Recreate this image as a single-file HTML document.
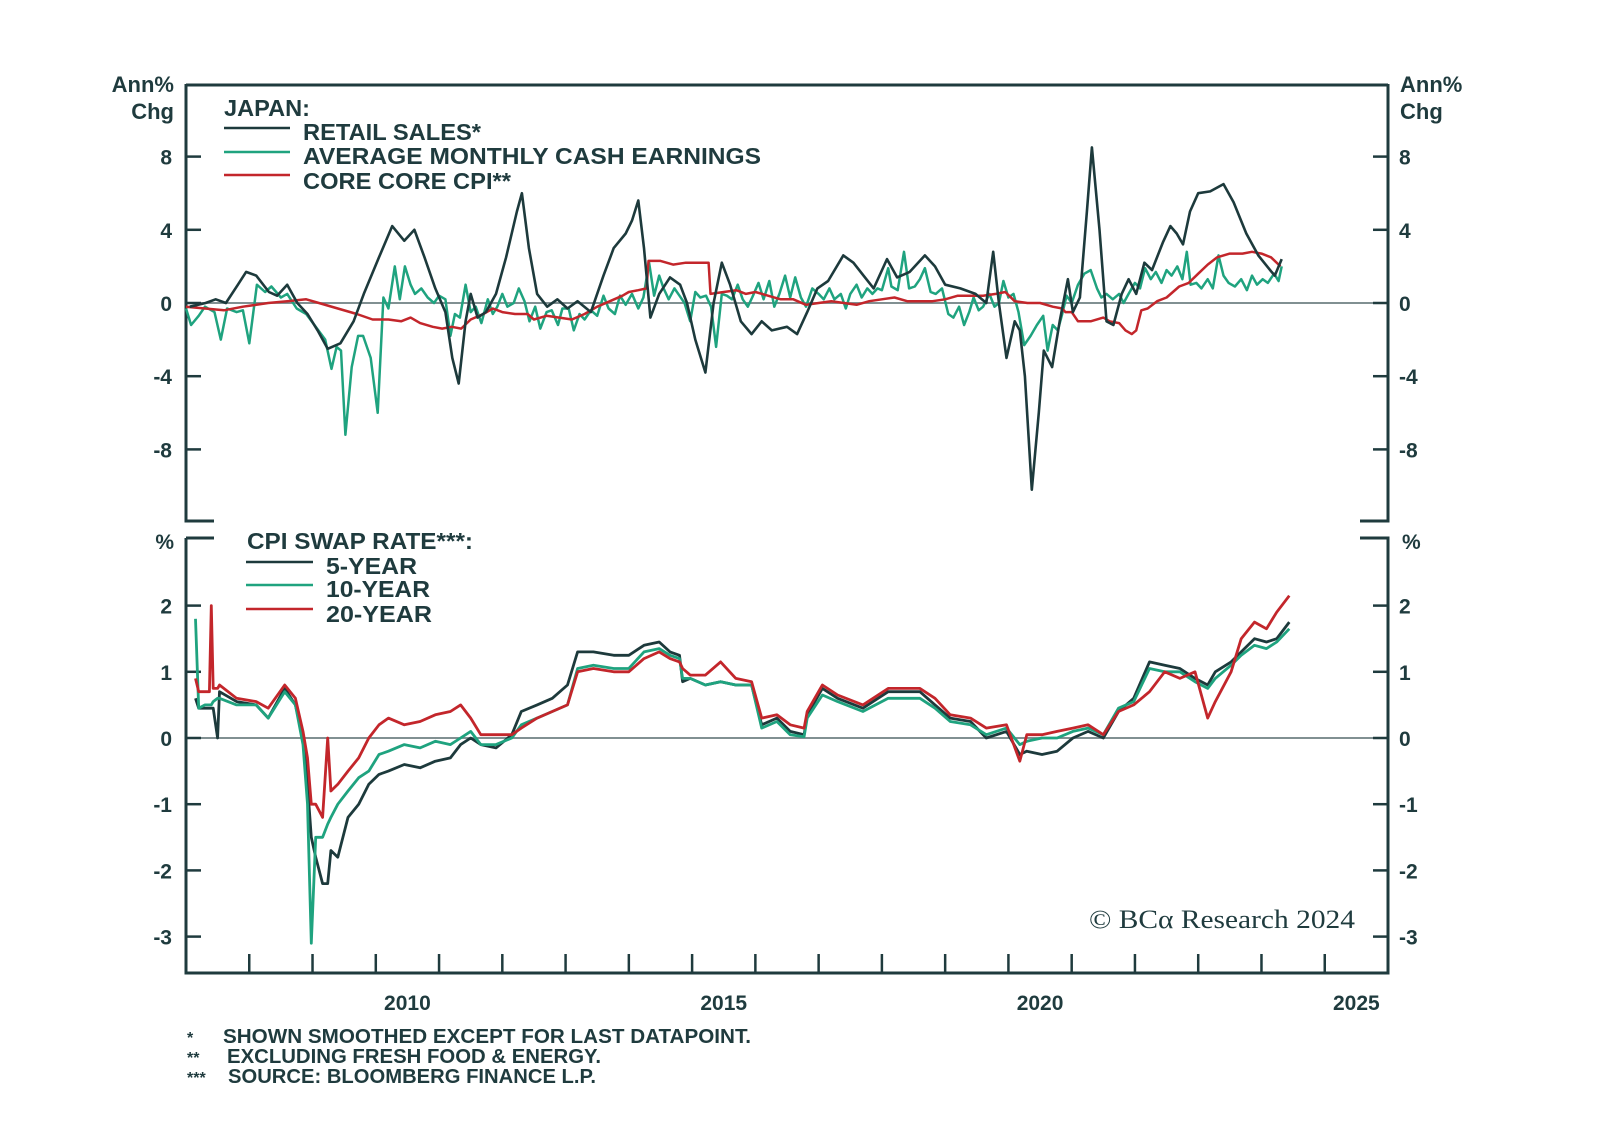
<!DOCTYPE html>
<html><head><meta charset="utf-8"><style>
html,body{margin:0;padding:0;background:#fff;}
svg{display:block;font-family:"Liberation Sans",sans-serif;}
.t{fill:#1f3b3e;font-weight:bold;}
</style></head><body>
<svg id="chart" width="1600" height="1133" viewBox="0 0 1600 1133" xmlns="http://www.w3.org/2000/svg">
<g id="frame" stroke="#1f3b3e" stroke-width="3" fill="none">
<path d="M186 85 H1388 M186 84 V521 H214 M1388 84 V521 H1360 M186 538 H214 M186 538 V973 H1388 V538 H1360"/>
</g>
<g id="zero-lines"></g>
<g id="ticks"></g>
<g id="series"></g>
<g>
<text class="t" x="174" y="92" font-size="22" text-anchor="end">Ann%</text>
<text class="t" x="174" y="119" font-size="22" text-anchor="end">Chg</text>
<text class="t" x="1400" y="92" font-size="22">Ann%</text>
<text class="t" x="1400" y="119" font-size="22">Chg</text>
<text class="t" x="174" y="549" font-size="21" text-anchor="end">%</text>
<text class="t" x="1402" y="549" font-size="21">%</text>
</g>
<g>
<text class="t" x="224" y="116" font-size="23" textLength="86" lengthAdjust="spacingAndGlyphs">JAPAN:</text>
<line x1="224" y1="128" x2="290" y2="128" stroke="#1d3a3c" stroke-width="2.5"/>
<line x1="224" y1="152" x2="290" y2="152" stroke="#1fa37f" stroke-width="2.5"/>
<line x1="224" y1="175" x2="290" y2="175" stroke="#c3262b" stroke-width="2.5"/>
<text class="t" x="303" y="140" font-size="23" textLength="178" lengthAdjust="spacingAndGlyphs">RETAIL SALES*</text>
<text class="t" x="303" y="164" font-size="23" textLength="458" lengthAdjust="spacingAndGlyphs">AVERAGE MONTHLY CASH EARNINGS</text>
<text class="t" x="303" y="189" font-size="23" textLength="208" lengthAdjust="spacingAndGlyphs">CORE CORE CPI**</text>
</g>
<g>
<text class="t" x="247" y="549" font-size="23" textLength="226" lengthAdjust="spacingAndGlyphs">CPI SWAP RATE***:</text>
<line x1="246" y1="562" x2="313" y2="562" stroke="#1d3a3c" stroke-width="2.5"/>
<line x1="246" y1="585" x2="313" y2="585" stroke="#1fa37f" stroke-width="2.5"/>
<line x1="246" y1="609" x2="313" y2="609" stroke="#c3262b" stroke-width="2.5"/>
<text class="t" x="326" y="574" font-size="23" textLength="91" lengthAdjust="spacingAndGlyphs">5-YEAR</text>
<text class="t" x="326" y="597" font-size="23" textLength="104" lengthAdjust="spacingAndGlyphs">10-YEAR</text>
<text class="t" x="326" y="622" font-size="23" textLength="106" lengthAdjust="spacingAndGlyphs">20-YEAR</text>
</g>
<text x="1089" y="928" font-size="26" fill="#1f3b3e" font-family="Liberation Serif, serif" textLength="266" lengthAdjust="spacingAndGlyphs">© BCα Research 2024</text>
<g>
<text class="t" x="187" y="1043" font-size="16">*</text>
<text class="t" x="187" y="1063" font-size="16">**</text>
<text class="t" x="187" y="1083" font-size="16">***</text>
<text class="t" x="223" y="1043" font-size="20" textLength="528" lengthAdjust="spacingAndGlyphs">SHOWN SMOOTHED EXCEPT FOR LAST DATAPOINT.</text>
<text class="t" x="227" y="1063" font-size="20" textLength="374" lengthAdjust="spacingAndGlyphs">EXCLUDING FRESH FOOD &amp; ENERGY.</text>
<text class="t" x="228" y="1083" font-size="20" textLength="368" lengthAdjust="spacingAndGlyphs">SOURCE: BLOOMBERG FINANCE L.P.</text>
</g>
</svg>
<script>
// ---- X axis ----
const xTickYears = [2008,2009,2010,2011,2012,2013,2014,2015,2016,2017,2018,2019,2020,2021,2022,2023,2024,2025];
const xLabelYears = [2010,2015,2020,2025];
const topTicks = [-8,-4,0,4,8];
const bottomTicks = [-3,-2,-1,0,1,2];

// ---- Top panel data ----
const retailDates = [2007.06,2007.31,2007.47,2007.63,2007.82,2007.95,2008.11,2008.31,2008.44,2008.60,2008.76,2008.92,2009.08,2009.24,2009.44,2009.65,2009.81,2010.05,2010.26,2010.45,2010.61,2010.77,2010.94,2011.10,2011.21,2011.31,2011.42,2011.50,2011.61,2011.74,2011.90,2012.06,2012.23,2012.31,2012.42,2012.55,2012.71,2012.87,2013.03,2013.19,2013.40,2013.60,2013.76,2013.95,2014.05,2014.15,2014.24,2014.34,2014.48,2014.65,2014.81,2014.92,2015.05,2015.21,2015.34,2015.47,2015.60,2015.77,2015.94,2016.10,2016.26,2016.50,2016.66,2016.82,2016.98,2017.15,2017.39,2017.55,2017.71,2017.87,2018.08,2018.24,2018.44,2018.68,2018.84,2019.00,2019.24,2019.48,2019.65,2019.76,2019.85,2019.97,2020.10,2020.18,2020.26,2020.37,2020.48,2020.56,2020.69,2020.81,2020.94,2021.02,2021.13,2021.24,2021.32,2021.44,2021.55,2021.66,2021.79,2021.90,2022.02,2022.15,2022.27,2022.44,2022.56,2022.66,2022.76,2022.87,2023.00,2023.19,2023.40,2023.56,2023.76,2023.95,2024.16,2024.21,2024.32];
const retailValues = [-0.2,0,0.2,0,1.0,1.7,1.5,0.6,0.4,1.0,0,-0.6,-1.5,-2.5,-2.2,-1,0.5,2.5,4.2,3.4,4.0,2.5,0.8,-0.5,-3,-4.4,-1,0.5,-0.8,-0.5,0.5,2.5,5.0,6.0,3,0.5,-0.2,0.2,-0.3,0.1,-0.5,1.5,3,3.8,4.5,5.6,3,-0.8,0.5,1.4,1,0,-2,-3.8,0,2.2,1,-1,-1.7,-1,-1.5,-1.3,-1.7,-0.5,0.8,1.2,2.6,2.2,1.5,0.8,2.4,1.4,1.7,2.6,2,1,0.8,0.5,0,2.8,0,-3,-1,-1.5,-4,-10.2,-6,-2.6,-3.5,-1,1.3,-0.5,0.3,5,8.5,4,-1,-1.2,0.5,1.3,0.5,2.2,1.8,3.3,4.2,3.8,3.2,5,6,6.1,6.5,5.5,3.8,2.6,1.7,1.5,2.4];

const earnDates = [2007.0,2007.08,2007.2,2007.3,2007.45,2007.55,2007.65,2007.8,2007.9,2008.0,2008.12,2008.25,2008.35,2008.5,2008.6,2008.75,2008.9,2009.05,2009.2,2009.3,2009.38,2009.45,2009.52,2009.62,2009.72,2009.8,2009.92,2010.03,2010.12,2010.2,2010.3,2010.38,2010.46,2010.55,2010.62,2010.72,2010.82,2010.92,2011.0,2011.1,2011.18,2011.25,2011.33,2011.42,2011.5,2011.58,2011.67,2011.77,2011.85,2011.92,2012.0,2012.08,2012.18,2012.26,2012.35,2012.43,2012.52,2012.6,2012.7,2012.78,2012.88,2012.95,2013.05,2013.13,2013.22,2013.3,2013.4,2013.5,2013.6,2013.68,2013.78,2013.86,2013.95,2014.05,2014.15,2014.23,2014.32,2014.4,2014.48,2014.55,2014.63,2014.72,2014.8,2014.88,2014.97,2015.05,2015.13,2015.22,2015.3,2015.38,2015.47,2015.55,2015.63,2015.72,2015.8,2015.88,2015.95,2016.05,2016.13,2016.22,2016.3,2016.38,2016.47,2016.55,2016.63,2016.72,2016.8,2016.9,2017.0,2017.08,2017.17,2017.25,2017.35,2017.43,2017.5,2017.6,2017.68,2017.77,2017.85,2017.93,2018.0,2018.1,2018.15,2018.25,2018.35,2018.43,2018.52,2018.6,2018.68,2018.77,2018.85,2018.95,2019.05,2019.13,2019.22,2019.3,2019.38,2019.45,2019.53,2019.6,2019.7,2019.78,2019.85,2019.92,2020.0,2020.08,2020.16,2020.25,2020.35,2020.45,2020.55,2020.62,2020.7,2020.78,2020.85,2020.92,2021.0,2021.1,2021.2,2021.3,2021.4,2021.47,2021.55,2021.65,2021.75,2021.82,2021.9,2022.0,2022.08,2022.16,2022.25,2022.33,2022.42,2022.5,2022.58,2022.67,2022.75,2022.82,2022.88,2022.97,2023.05,2023.15,2023.23,2023.32,2023.4,2023.48,2023.58,2023.68,2023.77,2023.85,2023.93,2024.02,2024.1,2024.2,2024.27,2024.32];
const earnValues = [-0.3,-1.2,-0.7,-0.2,-0.5,-2.0,-0.3,-0.5,-0.4,-2.2,1.0,0.6,0.9,0.3,0.5,-0.3,-0.6,-1.3,-2.0,-3.6,-2.4,-2.6,-7.2,-3.5,-1.8,-1.8,-3.0,-6.0,0.3,-0.3,2.0,0.2,2.0,1.0,0.5,0.8,0.3,0.0,0.4,0.2,-1.8,-0.6,-0.8,1.0,-0.5,-0.2,-1.1,0.2,-0.6,-0.2,0.5,-0.2,0.0,0.8,0.1,-1.0,-0.2,-1.4,-0.5,-0.4,-1.2,-0.3,-0.3,-1.5,-0.6,-0.9,-0.4,-0.7,0.4,-0.3,-0.6,0.4,-0.1,0.5,-0.3,0.3,2.2,0.4,1.5,0.8,0.2,0.8,0.4,0.0,-1.0,0.6,0.3,0.4,-0.2,-2.4,0.5,0.4,0.2,1.0,0.2,-0.2,0.3,1.1,0.2,1.2,-0.2,0.5,1.5,0.3,1.4,0.3,-0.2,0.8,0.5,0.2,0.8,0.2,0.5,-0.3,0.5,1.0,0.3,0.8,0.5,0.8,0.7,1.9,0.9,0.7,2.8,0.8,0.9,1.3,1.9,0.6,0.5,0.8,-0.6,-0.8,-0.2,-1.2,-0.5,0.3,-0.4,-0.2,0.5,-0.2,0.0,1.2,0.3,0.5,-0.5,-2.3,-1.8,-1.2,-0.7,-2.6,-1.2,-1.5,-0.6,0.4,0.0,1.0,1.6,1.8,0.8,0.3,0.5,0.2,0.5,0.0,0.5,1.1,0.8,1.9,1.3,1.7,1.1,1.8,1.5,2.0,1.3,2.8,1.0,1.1,0.8,1.3,0.8,2.6,1.5,1.1,0.9,1.3,0.7,1.5,1.0,1.3,1.1,1.6,1.2,2.0];

const cpiDates = [2007.0,2007.3,2007.6,2007.9,2008.3,2008.6,2008.9,2009.1,2009.4,2009.7,2009.95,2010.2,2010.4,2010.55,2010.7,2010.9,2011.05,2011.2,2011.35,2011.5,2011.7,2011.85,2012.0,2012.2,2012.4,2012.5,2012.7,2012.9,2013.1,2013.3,2013.5,2013.7,2013.9,2014.0,2014.15,2014.28,2014.31,2014.5,2014.7,2014.9,2015.1,2015.26,2015.29,2015.5,2015.7,2015.85,2016.0,2016.2,2016.4,2016.6,2016.8,2017.0,2017.2,2017.4,2017.6,2017.8,2018.0,2018.2,2018.4,2018.6,2018.8,2019.0,2019.2,2019.4,2019.6,2019.8,2019.95,2020.1,2020.3,2020.5,2020.7,2020.85,2020.9,2021.0,2021.1,2021.3,2021.5,2021.6,2021.75,2021.85,2021.95,2022.02,2022.1,2022.2,2022.35,2022.5,2022.7,2022.85,2023.0,2023.15,2023.3,2023.5,2023.7,2023.85,2024.0,2024.15,2024.3];
const cpiValues = [-0.2,-0.3,-0.4,-0.2,0.0,0.1,0.2,0.0,-0.3,-0.6,-0.9,-0.9,-1.0,-0.8,-1.1,-1.3,-1.4,-1.3,-1.4,-0.9,-0.6,-0.3,-0.5,-0.6,-0.6,-0.9,-0.7,-0.8,-0.9,-0.6,-0.2,0.1,0.4,0.6,0.7,0.8,2.3,2.3,2.1,2.2,2.2,2.2,0.5,0.6,0.7,0.5,0.6,0.4,0.2,0.2,-0.1,0.0,0.1,0.0,-0.1,0.1,0.2,0.3,0.1,0.1,0.1,0.2,0.4,0.4,0.4,0.5,0.6,0.1,0.0,0.0,-0.2,-0.3,-0.5,-0.5,-1.0,-1.0,-0.8,-1.0,-1.1,-1.5,-1.7,-1.5,-0.4,-0.3,0.1,0.3,0.9,1.1,1.6,2.1,2.5,2.7,2.7,2.8,2.7,2.5,2.0];

// ---- Bottom panel data (CPI swaps) ----
const swapDates = [2007.15,2007.2,2007.3,2007.37,2007.4,2007.43,2007.5,2007.53,2007.8,2008.11,2008.3,2008.56,2008.73,2008.85,2008.92,2008.98,2009.05,2009.16,2009.24,2009.29,2009.4,2009.56,2009.73,2009.89,2010.05,2010.2,2010.45,2010.7,2010.94,2011.18,2011.34,2011.5,2011.66,2011.9,2012.15,2012.3,2012.55,2012.79,2013.03,2013.19,2013.44,2013.76,2014.0,2014.24,2014.48,2014.65,2014.8,2014.85,2014.97,2015.21,2015.45,2015.69,2015.94,2016.1,2016.34,2016.55,2016.77,2016.82,2017.06,2017.3,2017.7,2018.1,2018.6,2018.84,2019.08,2019.4,2019.65,2019.97,2020.18,2020.29,2020.53,2020.77,2021.02,2021.26,2021.5,2021.74,2021.98,2022.23,2022.47,2022.71,2022.95,2023.15,2023.27,2023.52,2023.68,2023.89,2024.08,2024.24,2024.44];
const swap5y = [0.6,0.45,0.45,0.45,0.45,0.45,0.0,0.7,0.55,0.5,0.3,0.75,0.5,0.0,-0.7,-1.5,-1.8,-2.2,-2.2,-1.7,-1.8,-1.2,-1.0,-0.7,-0.55,-0.5,-0.4,-0.45,-0.35,-0.3,-0.1,0.0,-0.1,-0.15,0.05,0.4,0.5,0.6,0.8,1.3,1.3,1.25,1.25,1.4,1.45,1.3,1.25,0.85,0.9,0.8,0.85,0.8,0.8,0.2,0.3,0.1,0.05,0.35,0.75,0.6,0.45,0.7,0.7,0.5,0.3,0.25,0.0,0.1,-0.25,-0.2,-0.25,-0.2,0.0,0.1,0.0,0.4,0.6,1.15,1.1,1.05,0.9,0.8,1.0,1.15,1.3,1.5,1.45,1.5,1.75];
const swap10y = [1.8,0.45,0.5,0.5,0.5,0.55,0.6,0.6,0.5,0.5,0.3,0.7,0.5,-0.1,-1.0,-3.1,-1.5,-1.5,-1.3,-1.2,-1.0,-0.8,-0.6,-0.5,-0.25,-0.2,-0.1,-0.15,-0.05,-0.1,0.0,0.1,-0.1,-0.1,0.0,0.2,0.3,0.4,0.5,1.05,1.1,1.05,1.05,1.3,1.35,1.25,1.2,0.9,0.9,0.8,0.85,0.8,0.8,0.15,0.25,0.05,0.02,0.3,0.65,0.55,0.4,0.6,0.6,0.45,0.25,0.2,0.05,0.15,-0.1,-0.05,0.0,0.0,0.1,0.15,0.05,0.45,0.55,1.05,1.0,1.0,0.85,0.75,0.9,1.1,1.25,1.4,1.35,1.45,1.65];
const swap20y = [0.9,0.7,0.7,0.7,2.0,0.75,0.75,0.8,0.6,0.55,0.45,0.8,0.6,0.1,-0.3,-1.0,-1.0,-1.2,0.0,-0.8,-0.7,-0.5,-0.3,0.0,0.2,0.3,0.2,0.25,0.35,0.4,0.5,0.3,0.05,0.05,0.05,0.15,0.3,0.4,0.5,1.0,1.05,1.0,1.0,1.2,1.3,1.2,1.15,1.05,0.95,0.95,1.15,0.9,0.85,0.3,0.35,0.2,0.15,0.4,0.8,0.65,0.5,0.75,0.75,0.6,0.35,0.3,0.15,0.2,-0.35,0.05,0.05,0.1,0.15,0.2,0.05,0.4,0.5,0.7,1.0,0.9,1.0,0.3,0.55,1.0,1.5,1.75,1.65,1.9,2.15];

// ---- scales ----
const X0=186, X1=1388, Y0YR=2007, Y1YR=2026;
function xS(yr){ return X0 + (yr - Y0YR) * (X1 - X0) / (Y1YR - Y0YR); }
function yT(v){ return 303 - 18.3 * v; }
function yB(v){ return 738 - 66.2 * v; }

const NS="http://www.w3.org/2000/svg";
function mk(tag, parent){ const e=document.createElementNS(NS,tag); parent.appendChild(e); return e; }

const ticksG=document.getElementById('ticks');
const zeroG=document.getElementById('zero-lines');
const seriesG=document.getElementById('series');

const z1=mk('line',zeroG);


z1.setAttribute('x1',X0); z1.setAttribute('x2',X1); z1.setAttribute('y1',yT(0)); z1.setAttribute('y2',yT(0));
z1.setAttribute('stroke','#6f8082'); z1.setAttribute('stroke-width','1.8');
const z2=mk('line',zeroG);


z2.setAttribute('x1',X0); z2.setAttribute('x2',X1); z2.setAttribute('y1',yB(0)); z2.setAttribute('y2',yB(0));
z2.setAttribute('stroke','#6f8082'); z2.setAttribute('stroke-width','1.8');

function yTick(v, yf, side){
  const y=yf(v);
  const l=mk('line',ticksG);
  
  
  if(side==='L'){ l.setAttribute('x1',X0); l.setAttribute('x2',X0+15); }
  else { l.setAttribute('x1',X1-15); l.setAttribute('x2',X1); }
  l.setAttribute('y1',y); l.setAttribute('y2',y);
  l.setAttribute('stroke','#1f3b3e'); l.setAttribute('stroke-width','2.5');
  const t=mk('text',ticksG);
  
  
  t.setAttribute('class','t'); t.setAttribute('font-size','21');
  t.setAttribute('y',y+8);
  if(side==='L'){ t.setAttribute('x',172); t.setAttribute('text-anchor','end'); }
  else { t.setAttribute('x',1399); }
  t.textContent=String(v);
}
topTicks.forEach(v=>{ yTick(v,yT,'L'); yTick(v,yT,'R'); });
bottomTicks.forEach(v=>{ yTick(v,yB,'L'); yTick(v,yB,'R'); });

xTickYears.forEach(yr=>{
  const l=mk('line',ticksG);
  
  
  l.setAttribute('x1',xS(yr)); l.setAttribute('x2',xS(yr));
  l.setAttribute('y1',973); l.setAttribute('y2',954);
  l.setAttribute('stroke','#1f3b3e'); l.setAttribute('stroke-width','2.5');
});
xLabelYears.forEach(yr=>{
  const t=mk('text',ticksG);
  
  
  t.setAttribute('class','t'); t.setAttribute('font-size','21');
  t.setAttribute('x',xS(yr+0.5)); t.setAttribute('y',1010);
  t.setAttribute('text-anchor','middle');
  t.textContent=String(yr);
});

function drawLine(dates, vals, yf, color, name, w){
  const p=mk('polyline',seriesG);
  
  
  p.setAttribute('points', dates.map((d,i)=>xS(d).toFixed(1)+','+yf(vals[i]).toFixed(1)).join(' '));
  p.setAttribute('fill','none'); p.setAttribute('stroke',color);
  p.setAttribute('stroke-width',w); p.setAttribute('stroke-linejoin','round');
}
drawLine(earnDates, earnValues, yT, '#1fa37f', 'earnings-line', 2.5);
drawLine(cpiDates, cpiValues, yT, '#c3262b', 'core-core-cpi-line', 2.5);
drawLine(retailDates, retailValues, yT, '#1d3a3c', 'retail-sales-line', 2.6);
drawLine(swapDates, swap5y, yB, '#1d3a3c', 'swap-5y-line', 2.8);
drawLine(swapDates, swap10y, yB, '#1fa37f', 'swap-10y-line', 2.8);
drawLine(swapDates, swap20y, yB, '#c3262b', 'swap-20y-line', 2.8);
</script>
</body></html>
